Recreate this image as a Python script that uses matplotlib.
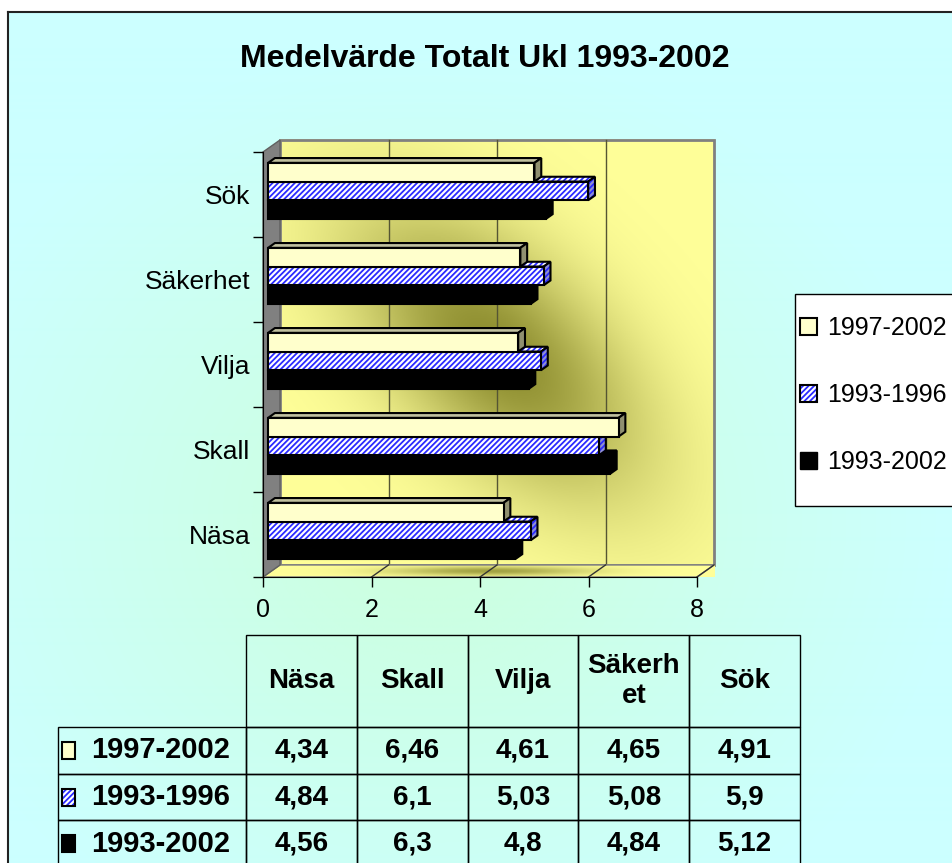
import numpy as np
import matplotlib.pyplot as plt
from matplotlib.patches import Polygon, Rectangle, Patch
from matplotlib.colors import to_rgb

plt.rcParams['font.family'] = ['Liberation Sans', 'DejaVu Sans']
plt.rcParams['hatch.linewidth'] = 1.3

# data
title = 'Medelvärde Totalt Ukl 1993-2002'
categories = ['Näsa', 'Skall', 'Vilja', 'Säkerhet', 'Sök']
col_labels = ['Näsa', 'Skall', 'Vilja', 'Säkerh\net', 'Sök']
periods = ['1997-2002', '1993-1996', '1993-2002']
v_97_02 = [4.34, 6.46, 4.61, 4.65, 4.91]
v_93_96 = [4.84, 6.1, 5.03, 5.08, 5.9]
v_93_02 = [4.56, 6.3, 4.8, 4.84, 5.12]
xticks = [0, 2, 4, 6, 8]

W, H = 952, 863
fig = plt.figure(figsize=(W / 100, H / 100), dpi=100)
fig.patch.set_facecolor('white')

# background gradient + chart border
bg = fig.add_axes([0, 0, 1, 1], zorder=-10)
bg.set_xlim(0, W)
bg.set_ylim(H, 0)
bg.axis('off')
yy, xx = np.mgrid[0:H, 0:W]
t = np.clip(np.hypot((xx - 430) / 520, (yy - 520) / 470), 0, 1)
c0, c1 = np.array(to_rgb('#ccffdc')), np.array(to_rgb('#ccffff'))
img = c0 * (1 - t)[..., None] + c1 * t[..., None]
img[:12, :] = 1
img[:, :8] = 1
bg.imshow(img, extent=(0, W, H, 0), aspect='auto')
bg.plot([8, 8], [12, H], color='#222222', lw=1.5)
bg.plot([8, W], [12, 12], color='#222222', lw=1.5)
bg.add_patch(Rectangle((795, 294), 170, 212, fc='white', ec='black', lw=1, zorder=3))

fig.text(485 / W, 1 - 67 / H, title, ha='center', va='baseline',
         fontsize=23, fontweight='bold')

# main chart
ax = fig.add_axes([263 / W, 1 - 577 / H, 434 / W, 425 / H])
ax.set_autoscale_on(False)
ax.set_xlim(0, 8)
ax.set_ylim(-0.5, 4.5)
ax.patch.set_visible(False)
DX = 17 / 434 * 8
DY = 12 / 425 * 5

bright = np.array(to_rgb('#ffff99'))
dark = np.array(to_rgb('#8a8a2c'))

# back wall
gv, gu = np.mgrid[0:1:200j, 0:1:200j]
s = ((gu - 0.5) - (gv - 0.5)) / np.sqrt(2)
tt = ((gu - 0.5) + (gv - 0.5)) / np.sqrt(2)
d = np.exp(-(s / 0.42) ** 2 - (tt / 0.22) ** 2) * 0.97
wall = bright * (1 - d)[..., None] + dark * d[..., None]
ax.imshow(wall, extent=(DX, 8 + DX, -0.5 + DY, 4.5 + DY), origin='lower',
          aspect='auto', clip_on=False, zorder=0.5)
ax.add_patch(Rectangle((DX, -0.5 + DY), 8, 5, fill=False, ec='#808080', lw=2,
                       clip_on=False, zorder=0.6))
for x in xticks[1:-1]:
    ax.plot([x + DX] * 2, [-0.5 + DY, 4.5 + DY], color='#555533', lw=1,
            clip_on=False, zorder=0.6)

# floor
fv, fu = np.mgrid[0:1:30j, 0:1:200j]
fd = np.exp(-((fu - 0.5) / 0.22) ** 2) * np.exp(-((fv - 0.5) / 0.4) ** 2) * 0.8
floor_img = bright * (1 - fd)[..., None] + dark * fd[..., None]
floor = Polygon([(0, -0.5), (8, -0.5), (8 + DX, -0.5 + DY), (DX, -0.5 + DY)],
                fill=False, ec='#808080', lw=1, clip_on=False, zorder=0.7)
ax.add_patch(floor)
fim = ax.imshow(floor_img, extent=(0, 8 + DX, -0.5, -0.5 + DY), origin='lower',
                aspect='auto', clip_on=False, zorder=0.6)
fim.set_clip_path(floor)
for x in xticks[1:]:
    ax.plot([x, x + DX], [-0.5, -0.5 + DY], color='#333333', lw=1,
            clip_on=False, zorder=0.7)

# left wall
ax.add_patch(Polygon([(0, -0.5), (DX, -0.5 + DY), (DX, 4.5 + DY), (0, 4.5)],
                     fc='#808080', ec='#606060', lw=1, clip_on=False, zorder=0.7))

# bars
y = np.arange(len(categories))
h = 0.22
bx, by = 0.3 * DX, 0.3 * DY
ddx, ddy = 0.4 * DX, 0.4 * DY
HATCH = '//////'
HCOL = '#2a2aff'


def face(pts, fc, z, hatch=None):
    if hatch:
        ax.add_patch(Polygon(pts, fc=fc, ec=HCOL, hatch=hatch, lw=0,
                             clip_on=False, zorder=z))
        ax.add_patch(Polygon(pts, fill=False, ec='black', lw=1.5,
                             clip_on=False, zorder=z))
    else:
        ax.add_patch(Polygon(pts, fc=fc, ec='black', lw=1.5,
                             clip_on=False, zorder=z))


series = [
    (v_93_02, -h, 'black', 'black', 'black', None, 3),
    (v_93_96, 0, 'white', 'white', '#9090d0', HATCH, 4),
    (v_97_02, h, '#ffffcc', '#c0c0a0', '#909070', None, 5),
]
for vals, off, fc, top_c, side_c, hatch, z in series:
    if hatch:
        bars = ax.barh(y + off + by, vals, left=bx, height=h, color=fc,
                       edgecolor=HCOL, hatch=hatch, lw=0, zorder=z,
                       clip_on=False)
        ax.barh(y + off + by, vals, left=bx, height=h, fill=False,
                edgecolor='black', lw=1.5, zorder=z, clip_on=False)
    else:
        bars = ax.barh(y + off + by, vals, left=bx, height=h, color=fc,
                       edgecolor='black', lw=1.5, zorder=z, clip_on=False)
    for r in bars:
        x0, y0 = r.get_x(), r.get_y()
        x1, y1 = x0 + r.get_width(), y0 + r.get_height()
        face([(x0, y1), (x1, y1), (x1 + ddx, y1 + ddy), (x0 + ddx, y1 + ddy)],
             top_c, z - 0.1, hatch)
        face([(x1, y0), (x1 + ddx, y0 + ddy), (x1 + ddx, y1 + ddy), (x1, y1)],
             side_c, z - 0.1, hatch)

for sp in ['top', 'right']:
    ax.spines[sp].set_visible(False)
ax.spines['left'].set_zorder(0.8)
ax.spines['bottom'].set_zorder(0.8)
ax.set_yticks(np.arange(-0.5, len(categories), 1))
ax.set_yticklabels([])
ax.set_yticks(y, minor=True)
ax.set_yticklabels(categories, minor=True)
ax.tick_params(axis='y', which='major', length=7, width=1)
ax.tick_params(axis='y', which='minor', length=0, pad=9, labelsize=19)
ax.set_xticks(xticks)
ax.set_xticklabels([str(v) for v in xticks])
ax.tick_params(axis='x', length=7, width=1, pad=8, labelsize=18)

# legend
handles = [
    Patch(fc='#ffffcc', ec='black', lw=1.5),
    (Patch(fc='white', ec=HCOL, hatch=HATCH, lw=0),
     Patch(fill=False, ec='black', lw=1.5)),
    Patch(fc='black', ec='black'),
]
fig.legend(handles, periods, loc='upper left',
           bbox_to_anchor=(800 / W, 1 - 316 / H), frameon=False, fontsize=18,
           handlelength=0.68, handleheight=0.68, handletextpad=0.4,
           labelspacing=1.72, borderpad=0, borderaxespad=0)

# data table: axes covers the value columns, row labels sit to the left
def fmt(v):
    return f'{v:g}'.replace('.', ',')


cell_text = [[fmt(v) for v in s] for s in (v_97_02, v_93_96, v_93_02)]
tab_l, tab_r, tab_t, tab_b = 246, 800, 635, 867
tw, th = tab_r - tab_l, tab_b - tab_t
tax = fig.add_axes([tab_l / W, 1 - tab_b / H, tw / W, th / H])
tax.axis('off')
tbl = tax.table(cellText=cell_text, rowLabels=periods, colLabels=col_labels,
                cellLoc='center', rowLoc='left', colLoc='center', loc='center')
tbl.auto_set_font_size(False)
lab_w = 188 / tw
col_w = 1 / len(col_labels)
head_h = 92 / th
row_h = (1 - head_h) / len(periods)
for (r, c), cell in tbl.get_celld().items():
    cell.set_width(lab_w if c == -1 else col_w)
    cell.set_height(head_h if r == 0 else row_h)
    cell.set_facecolor('none')
    cell.set_edgecolor('black')
    cell.set_linewidth(1)
    cell.get_text().set_fontsize(21 if c == -1 else 20)
    cell.get_text().set_fontweight('bold')
    if c == -1:
        cell.PAD = 33 / 188

for i, (fc, hatch) in enumerate([('#ffffcc', None), ('white', HATCH), ('black', None)]):
    yc = 1 - head_h - row_h * (i + 0.5)
    rx, rw, rh = -lab_w + 4 / tw, 13 / tw, 17 / th
    if hatch:
        tax.add_patch(Rectangle((rx, yc - rh / 2), rw, rh, fc=fc, ec=HCOL,
                                hatch=hatch, lw=0, transform=tax.transAxes,
                                clip_on=False))
    tax.add_patch(Rectangle((rx, yc - rh / 2), rw, rh,
                            fc='none' if hatch else fc, ec='black', lw=1.5,
                            transform=tax.transAxes, clip_on=False))

fig.savefig('out.png', dpi=100)
